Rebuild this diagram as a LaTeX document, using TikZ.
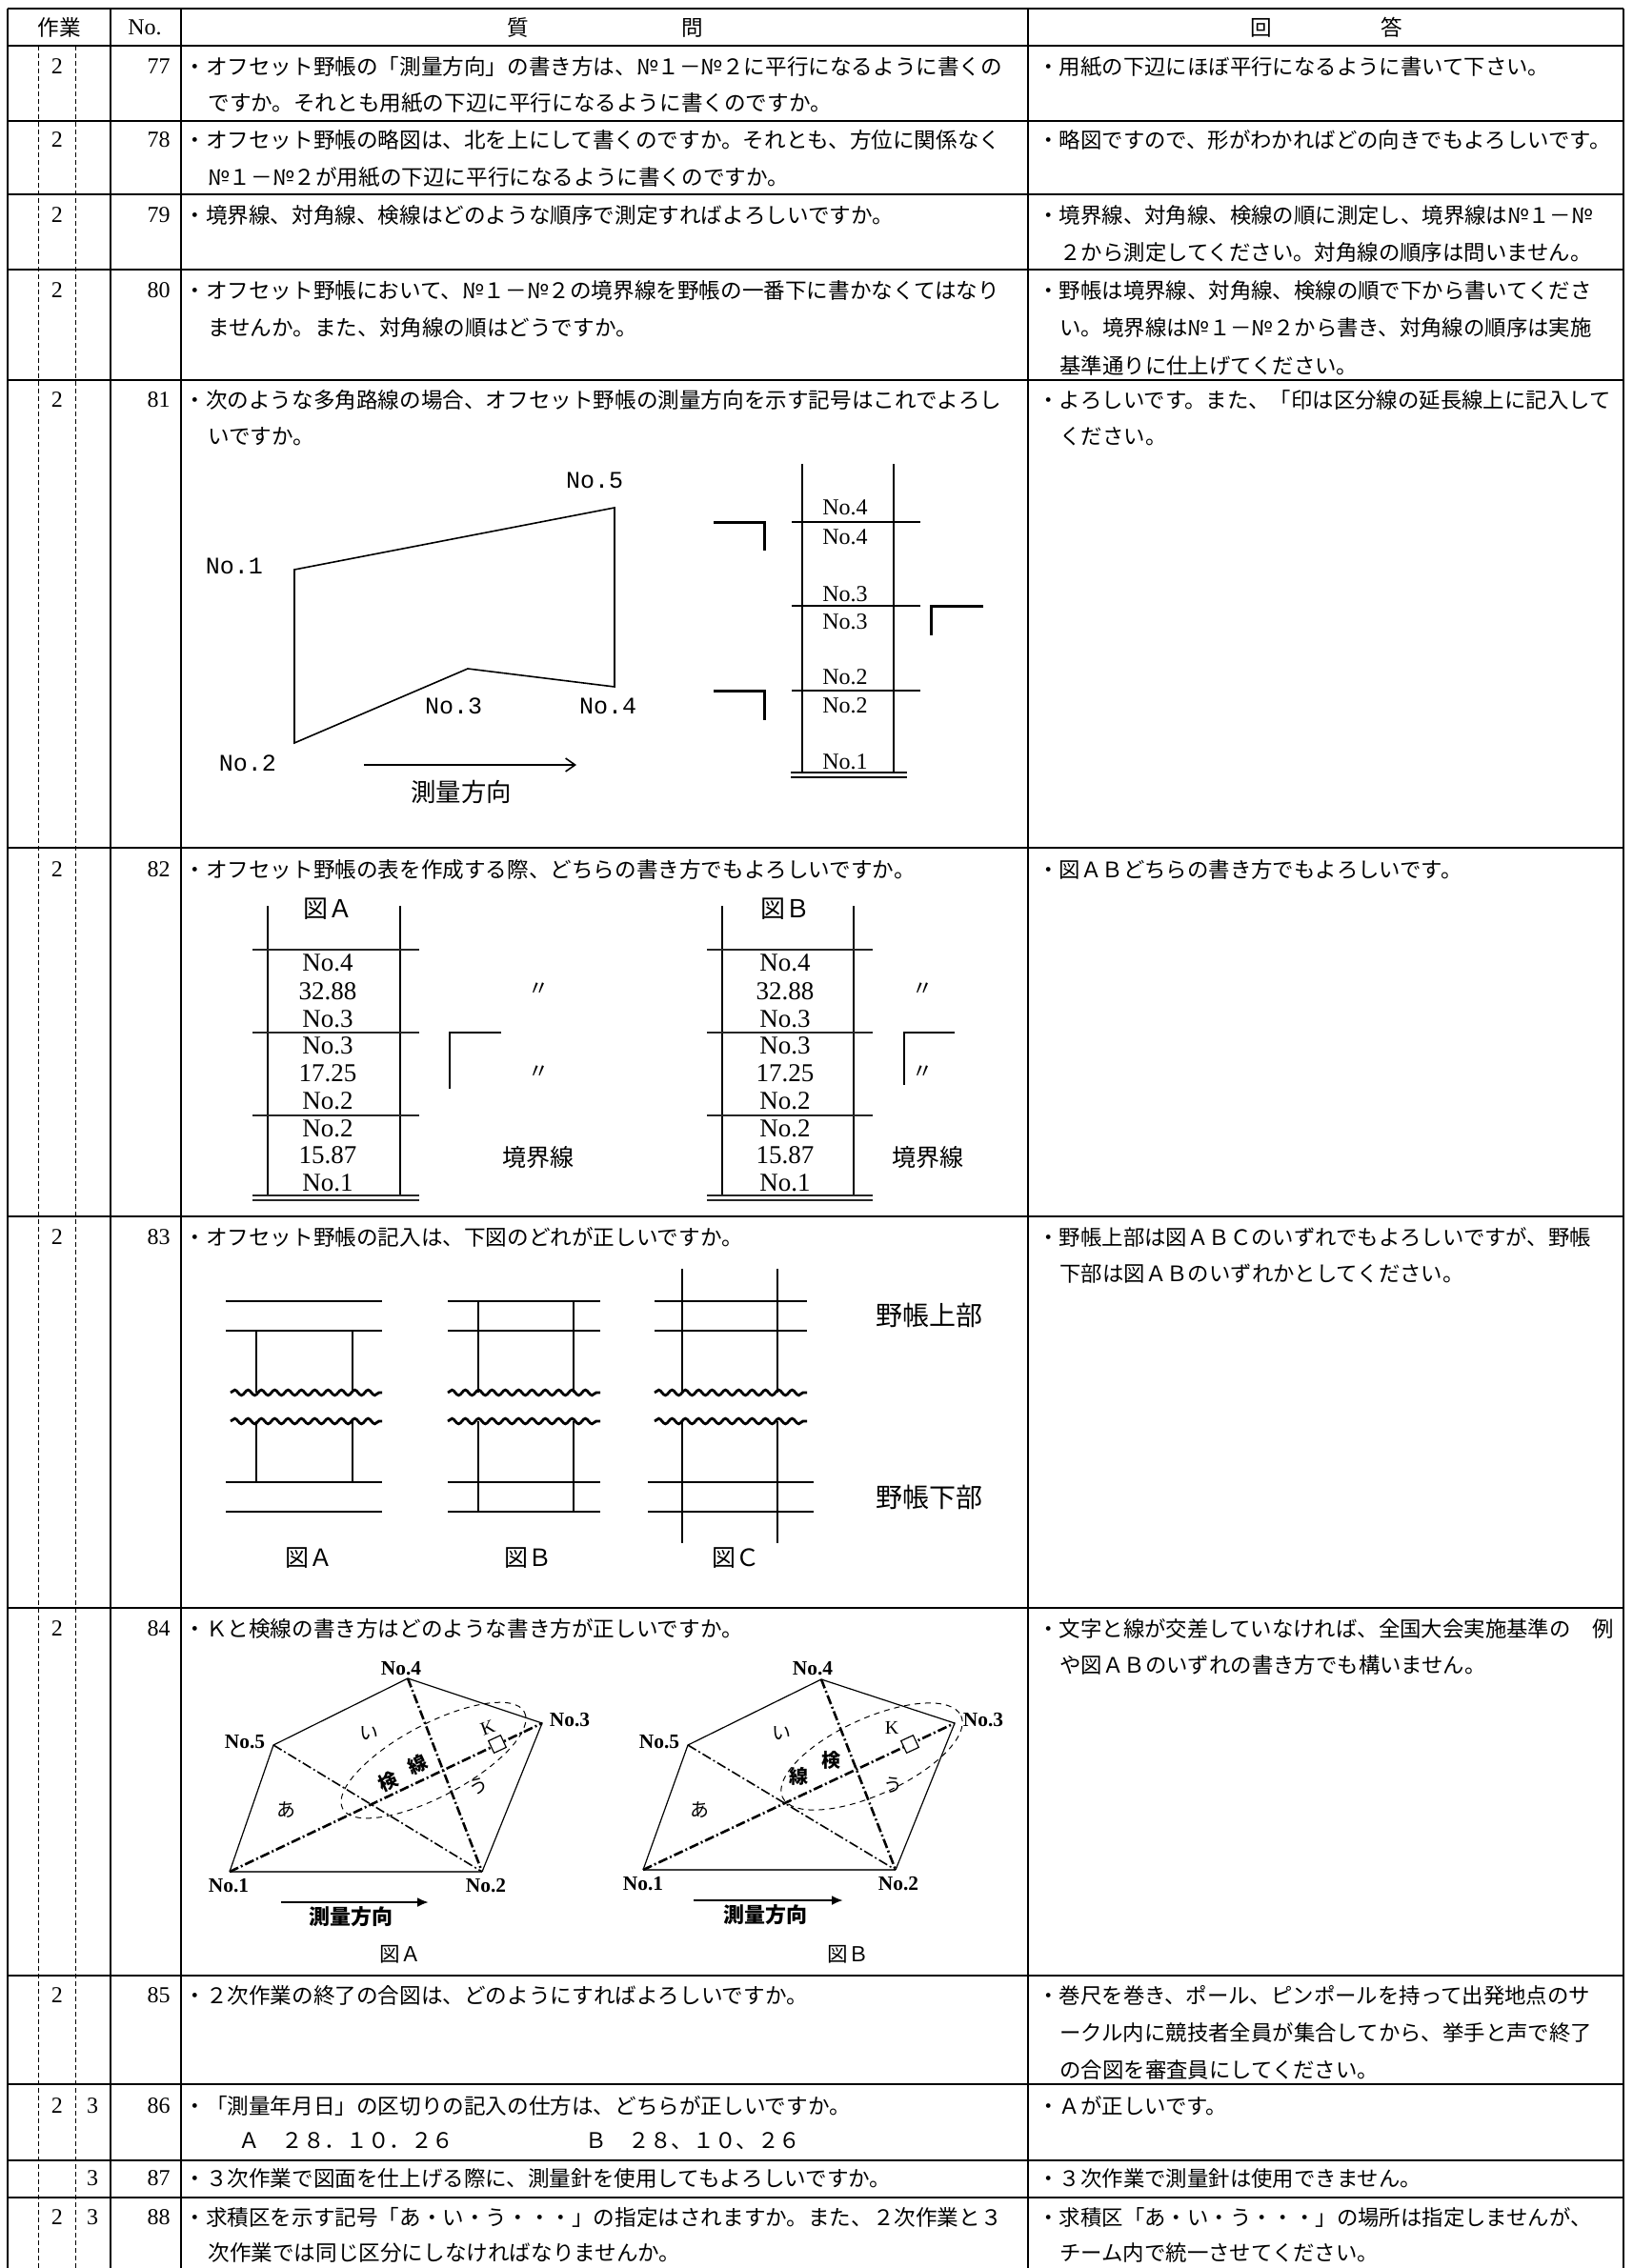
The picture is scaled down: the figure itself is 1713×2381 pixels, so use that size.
\documentclass[tikz,border=0pt]{standalone}
\usepackage{fontspec}
\setmainfont{Liberation Serif}
\newfontfamily\jp{Noto Sans CJK JP}
\newfontfamily\lmono{Liberation Mono}
\usetikzlibrary{arrows.meta,decorations.pathmorphing}
\newcommand\fsz[1]{\fontsize{#1}{#1}\selectfont}
\begin{document}
\begin{tikzpicture}[x=0.5pt,y=-0.5pt,
  hl/.style={line width=1.4pt},
  vl/.style={line width=1pt},
  dl/.style={line width=0.5pt,dash pattern=on 2.5pt off 1.5pt},
  tq/.style={anchor=west,inner sep=0pt,text height=9.9pt,text depth=1.4pt,font=\jp\fsz{11.3pt}},
  ta/.style={anchor=west,inner sep=0pt,text height=9.9pt,text depth=1.4pt,font=\jp\fsz{11.2pt}},
  hd/.style={inner sep=0pt,text height=9.9pt,text depth=1.4pt,font=\jp\fsz{11.3pt}},
  rn/.style={anchor=east,inner sep=0pt,font=\fsz{12pt}},
  wk/.style={inner sep=0pt,font=\fsz{12pt}},
  fg/.style={line width=0.8pt},
  mlab/.style={inner sep=0pt,font=\lmono\fsz{12.5pt}},
  slab/.style={inner sep=0pt,font=\fsz{12pt}},
  tlab/.style={inner sep=0pt,font=\fsz{13.5pt}},
  jlab/.style={inner sep=0pt,font=\jp\fsz{#1}},
  jblab/.style={inner sep=0pt,font=\jp\bfseries\fsz{#1}},
  cmark/.style={line width=1.5pt},
  thinc/.style={line width=0.6pt},
  trule/.style={line width=1.2pt,black!85},
  wavy/.style={line width=1.4pt,decorate,decoration={snake,segment length=7pt,amplitude=1.4pt}},
  pedge/.style={line width=0.6pt},
  pbase/.style={line width=1pt,black!75},
  ddthin/.style={line width=0.8pt,dash pattern=on 5pt off 1.5pt on 1pt off 1.5pt},
  ddthick/.style={line width=1.3pt,dash pattern=on 5pt off 1.5pt on 1pt off 1.5pt},
  ellip/.style={line width=0.5pt,dash pattern=on 3pt off 2.5pt},
  blab/.style={inner sep=0pt,font=\bfseries\fsz{10.7pt}},
  sqm/.style={draw,line width=0.6pt,fill=white,minimum size=7pt,inner sep=0pt,rotate=25},
  bigarrow/.style={line width=1.4pt,-{Latex[length=6pt,width=5pt]}},
]
\fill[white] (0,0) rectangle (1713,2381);
\useasboundingbox (0,0) rectangle (1713,2381);

% ---------- table grid ----------
\foreach \yy in {9,48,127,204,283,399,890,1277,1688,2074,2188,2268,2307}
  \draw[hl] (8,\yy) -- (1704,\yy);
\draw[line width=1.2pt] (8,9) -- (8,2381);
\foreach \xx in {116,190,1079}
  \draw[vl] (\xx,9) -- (\xx,2381);
\draw[line width=1.2pt] (1704,9) -- (1704,2381);
\draw[dl] (40,48) -- (40,2381);
\draw[dl] (79,48) -- (79,2381);

% ---------- header ----------
\node[hd] (h1) at (62,29) {作業};
\node[inner sep=0pt,font=\fsz{12pt}] (h2) at (152,29) {No.};
\node[hd] (h3) at (544,29) {質};
\node[hd] (h4) at (727,29) {問};
\node[hd] (h5) at (1324,29) {回};
\node[hd] (h6) at (1461,29) {答};

% ---------- work / number columns ----------
\foreach \yy/\nn in {70/77,147/78,226/79,305/80,420/81,913/82,1299/83,1710/84,2095/85,2211/86,2287/87,2328/88}
  \node[rn] (n\nn) at (179,\yy) {\nn};
\foreach \yy/\nn in {70/77,147/78,226/79,305/80,420/81,913/82,1299/83,1710/84,2095/85,2211/86,2328/88}
  \node[wk] (w2\nn) at (60,\yy) {2};
\foreach \yy/\nn in {2211/86,2287/87,2328/88}
  \node[wk] (w3\nn) at (97,\yy) {3};

% ---------- questions ----------
\node[tq] (q77a) at (193,70) {・オフセット野帳の「測量方向」の書き方は、№１－№２に平行になるように書くの};
\node[tq] (q77b) at (218,108) {ですか。それとも用紙の下辺に平行になるように書くのですか。};
\node[tq] (q78a) at (193,147) {・オフセット野帳の略図は、北を上にして書くのですか。それとも、方位に関係なく};
\node[tq] (q78b) at (218,186) {№１－№２が用紙の下辺に平行になるように書くのですか。};
\node[tq] (q79a) at (193,226) {・境界線、対角線、検線はどのような順序で測定すればよろしいですか。};
\node[tq] (q80a) at (193,305) {・オフセット野帳において、№１－№２の境界線を野帳の一番下に書かなくてはなり};
\node[tq] (q80b) at (218,344) {ませんか。また、対角線の順はどうですか。};
\node[tq] (q81a) at (193,420) {・次のような多角路線の場合、オフセット野帳の測量方向を示す記号はこれでよろし};
\node[tq] (q81b) at (218,458) {いですか。};
\node[tq] (q82a) at (193,913) {・オフセット野帳の表を作成する際、どちらの書き方でもよろしいですか。};
\node[tq] (q83a) at (193,1299) {・オフセット野帳の記入は、下図のどれが正しいですか。};
\node[tq] (q84a) at (193,1710) {・Ｋと検線の書き方はどのような書き方が正しいですか。};
\node[tq] (q85a) at (193,2095) {・２次作業の終了の合図は、どのようにすればよろしいですか。};
\node[tq] (q86a) at (193,2211) {・「測量年月日」の区切りの記入の仕方は、どちらが正しいですか。};
\node[tq] (q86b) at (250,2247) {Ａ　２８．１０．２６};
\node[tq] (q86c) at (614,2247) {Ｂ　２８、１０、２６};
\node[tq] (q87a) at (193,2287) {・３次作業で図面を仕上げる際に、測量針を使用してもよろしいですか。};
\node[tq] (q88a) at (193,2328) {・求積区を示す記号「あ・い・う・・・」の指定はされますか。また、２次作業と３};
\node[tq] (q88b) at (218,2365) {次作業では同じ区分にしなければなりませんか。};

% ---------- answers ----------
\node[ta] (a77a) at (1089,70) {・用紙の下辺にほぼ平行になるように書いて下さい。};
\node[ta] (a78a) at (1089,147) {・略図ですので、形がわかればどの向きでもよろしいです。};
\node[ta] (a79a) at (1089,226) {・境界線、対角線、検線の順に測定し、境界線は№１－№};
\node[ta] (a79b) at (1112,265) {２から測定してください。対角線の順序は問いません。};
\node[ta] (a80a) at (1089,305) {・野帳は境界線、対角線、検線の順で下から書いてくださ};
\node[ta] (a80b) at (1112,344) {い。境界線は№１－№２から書き、対角線の順序は実施};
\node[ta] (a80c) at (1112,384) {基準通りに仕上げてください。};
\node[ta] (a81a) at (1089,420) {・よろしいです。また、「印は区分線の延長線上に記入して};
\node[ta] (a81b) at (1112,458) {ください。};
\node[ta] (a82a) at (1089,913) {・図ＡＢどちらの書き方でもよろしいです。};
\node[ta] (a83a) at (1089,1299) {・野帳上部は図ＡＢＣのいずれでもよろしいですが、野帳};
\node[ta] (a83b) at (1112,1337) {下部は図ＡＢのいずれかとしてください。};
\node[ta] (a84a) at (1089,1710) {・文字と線が交差していなければ、全国大会実施基準の　例};
\node[ta] (a84b) at (1112,1748) {や図ＡＢのいずれの書き方でも構いません。};
\node[ta] (a85a) at (1089,2095) {・巻尺を巻き、ポール、ピンポールを持って出発地点のサ};
\node[ta] (a85b) at (1112,2134) {ークル内に競技者全員が集合してから、挙手と声で終了};
\node[ta] (a85c) at (1112,2173) {の合図を審査員にしてください。};
\node[ta] (a86a) at (1089,2211) {・Ａが正しいです。};
\node[ta] (a87a) at (1089,2287) {・３次作業で測量針は使用できません。};
\node[ta] (a88a) at (1089,2328) {・求積区「あ・い・う・・・」の場所は指定しませんが、};
\node[ta] (a88b) at (1112,2365) {チーム内で統一させてください。};

% ---------- row 81 figure ----------
\coordinate (p1) at (309,598);
\coordinate (p5) at (645,533);
\coordinate (p4) at (645,721);
\coordinate (p3) at (491,702);
\coordinate (p2) at (309,780);
\draw[fg,line join=miter] (p1) -- (p5) -- (p4) -- (p3) -- (p2) -- cycle;
\node[mlab] (l81n5) at (624,504) {No.5};
\node[mlab] (l81n1) at (246,594) {No.1};
\node[mlab] (l81n3) at (476,741) {No.3};
\node[mlab] (l81n4) at (638,741) {No.4};
\node[mlab] (l81n2) at (260,801) {No.2};
\coordinate (ar1s) at (382,803);
\coordinate (ar1e) at (605,803);
\draw[line width=0.8pt,-{Straight Barb[length=5pt,width=7pt]}] (ar1s) -- (ar1e);
\node[jlab=13.2pt] (l81dir) at (484,831) {測量方向};
% field book
\draw[thinc] (842,487) -- (842,811);
\draw[thinc] (938,487) -- (938,811);
\foreach \yy in {548,636,725}
  \draw[line width=0.9pt] (831,\yy) -- (966,\yy);
\draw[line width=0.9pt] (830,811) -- (952,811);
\draw[line width=0.9pt] (830,816) -- (952,816);
\foreach \yy/\tt/\id in {533/4/a,564/4/b,624/3/a,653/3/b,711/2/a,741/2/b,800/1/a}
  \node[slab] (fb\tt\id) at (887,\yy) {No.\tt};
\draw[cmark] (749,548) -- (802,548) -- (802,578);
\draw[cmark] (749,725) -- (802,725) -- (802,756);
\draw[cmark] (1032,636) -- (977,636) -- (977,667);

% ---------- row 82 figure ----------
\foreach \xa/\xb/\xc/\xd/\tx/\lab/\id in {265/281/420/440/344/Ａ/A,742/758/896/916/824/Ｂ/B}{
  \draw[thinc] (\xb,951) -- (\xb,1255);
  \draw[thinc] (\xc,951) -- (\xc,1255);
  \foreach \yy in {997,1084,1171,1255,1260}
    \draw[trule] (\xa,\yy) -- (\xd,\yy);
  \node[jlab=13pt] (t82h\id) at (\tx,954) {図\lab};
  \node[tlab] (t82a\id) at (\tx,1011) {No.4};
  \node[tlab] (t82b\id) at (\tx,1041) {32.88};
  \node[tlab] (t82c\id) at (\tx,1070) {No.3};
  \node[tlab] (t82d\id) at (\tx,1098) {No.3};
  \node[tlab] (t82e\id) at (\tx,1127) {17.25};
  \node[tlab] (t82f\id) at (\tx,1156) {No.2};
  \node[tlab] (t82g\id) at (\tx,1185) {No.2};
  \node[tlab] (t82i\id) at (\tx,1213) {15.87};
  \node[tlab] (t82j\id) at (\tx,1242) {No.1};
}
\draw[thinc] (526,1084) -- (472,1084) -- (472,1143);
\node[jlab=11pt] (dA1) at (565,1039) {〃};
\node[jlab=11pt] (dA2) at (565,1126) {〃};
\node[jlab=12.5pt] (kA) at (565,1215) {境界線};
\draw[thinc] (1002,1084) -- (949,1084) -- (949,1139);
\node[jlab=11pt] (dB1) at (968,1039) {〃};
\node[jlab=11pt] (dB2) at (968,1126) {〃};
\node[jlab=12.5pt] (kB) at (974,1215) {境界線};

% ---------- row 83 figure ----------
% fig A
\draw[line width=1pt] (237,1366) -- (401,1366);
\draw[line width=1pt] (237,1397) -- (401,1397);
\draw[thinc] (269,1397) -- (269,1462);
\draw[thinc] (370,1397) -- (370,1462);
\draw[wavy] (242,1462) -- (401,1462);
\draw[wavy] (242,1492) -- (401,1492);
\draw[thinc] (269,1492) -- (269,1556);
\draw[thinc] (370,1492) -- (370,1556);
\draw[line width=1pt] (237,1556) -- (401,1556);
\draw[line width=1pt] (237,1587) -- (401,1587);
% fig B
\draw[line width=1pt] (470,1366) -- (630,1366);
\draw[line width=1pt] (470,1397) -- (630,1397);
\draw[thinc] (502,1366) -- (502,1462);
\draw[thinc] (602,1366) -- (602,1462);
\draw[wavy] (470,1462) -- (630,1462);
\draw[wavy] (470,1492) -- (630,1492);
\draw[thinc] (502,1492) -- (502,1587);
\draw[thinc] (602,1492) -- (602,1587);
\draw[line width=1pt] (470,1556) -- (630,1556);
\draw[line width=1pt] (470,1587) -- (630,1587);
% fig C
\draw[line width=1pt] (687,1366) -- (847,1366);
\draw[line width=1pt] (687,1397) -- (847,1397);
\draw[thinc] (716,1332) -- (716,1462);
\draw[thinc] (816,1332) -- (816,1462);
\draw[wavy] (687,1462) -- (847,1462);
\draw[wavy] (687,1492) -- (847,1492);
\draw[thinc] (716,1492) -- (716,1620);
\draw[thinc] (816,1492) -- (816,1620);
\draw[line width=1pt] (680,1556) -- (854,1556);
\draw[line width=1pt] (680,1587) -- (854,1587);
\node[jlab=12.5pt] (f83A) at (324,1636) {図Ａ};
\node[jlab=12.5pt] (f83B) at (554,1636) {図Ｂ};
\node[jlab=12.5pt] (f83C) at (772,1636) {図Ｃ};
\node[jlab=14pt] (f83up) at (975,1381) {野帳上部};
\node[jlab=14pt] (f83lo) at (975,1572) {野帳下部};

% ---------- row 84 figure A ----------
\coordinate (A1) at (241,1965);
\coordinate (A2) at (506,1965);
\coordinate (A3) at (569,1809);
\coordinate (A4) at (428,1762);
\coordinate (A5) at (287,1832);
\draw[pbase] (A1) -- (A2);
\draw[pedge] (A2) -- (A3) -- (A4) -- (A5) -- (A1);
\draw[ddthin] (A5) -- (A2);
\draw[ddthick] (A4) -- (A2);
\draw[ddthick] (A1) -- (A3);
\draw[ellip,rotate around={28:(455,1848)}] (455,1848) ellipse [x radius=108,y radius=38];
\node[sqm] (sqA) at (522,1831) {};
\node[blab] (A4l) at (421,1752) {No.4};
\node[blab] (A3l) at (598,1806) {No.3};
\node[blab] (A5l) at (257,1829) {No.5};
\node[blab] (A1l) at (240,1980) {No.1};
\node[blab] (A2l) at (510,1980) {No.2};
\node[inner sep=0pt,font=\fsz{10pt},rotate=20] (AK) at (512,1814) {K};
\node[jlab=10pt] (Ai) at (387,1820) {い};
\node[jlab=10pt] (Aa) at (300,1900) {あ};
\node[jlab=10pt,rotate=20] (Au) at (502,1875) {う};
\node[jblab=10pt,rotate=25] (Aken) at (407,1870) {検};
\node[jblab=10pt,rotate=25] (Asen) at (438,1852) {線};
\coordinate (aAs) at (295,1997);
\coordinate (aAe) at (450,1997);
\draw[bigarrow] (aAs) -- (aAe);
\node[jblab=11pt] (Adir) at (368,2012) {測量方向};
\node[jlab=10.8pt] (Afig) at (420,2052) {図Ａ};

% ---------- row 84 figure B ----------
\coordinate (B1) at (675,1963);
\coordinate (B2) at (940,1963);
\coordinate (B3) at (1002,1809);
\coordinate (B4) at (862,1763);
\coordinate (B5) at (722,1832);
\draw[pbase] (B1) -- (B2);
\draw[pedge] (B2) -- (B3) -- (B4) -- (B5) -- (B1);
\draw[ddthin] (B5) -- (B2);
\draw[ddthick] (B4) -- (B2);
\draw[ddthick] (B1) -- (B3);
\draw[ellip,rotate around={24.5:(915,1844)}] (915,1844) ellipse [x radius=103,y radius=40];
\node[sqm] (sqB) at (955,1831) {};
\node[blab] (B4l) at (853,1752) {No.4};
\node[blab] (B3l) at (1032,1806) {No.3};
\node[blab] (B5l) at (692,1829) {No.5};
\node[blab] (B1l) at (675,1978) {No.1};
\node[blab] (B2l) at (943,1978) {No.2};
\node[inner sep=0pt,font=\fsz{10pt}] (BK) at (936,1814) {K};
\node[jlab=10pt] (Bi) at (820,1820) {い};
\node[jlab=10pt] (Ba) at (734,1900) {あ};
\node[jlab=10pt] (Bu) at (937,1874) {う};
\node[jblab=10pt] (Bken) at (872,1848) {検};
\node[jblab=10pt] (Bsen) at (838,1865) {線};
\coordinate (aBs) at (728,1995);
\coordinate (aBe) at (885,1995);
\draw[bigarrow] (aBs) -- (aBe);
\node[jblab=11pt] (Bdir) at (803,2010) {測量方向};
\node[jlab=10.8pt] (Bfig) at (890,2052) {図Ｂ};
\end{tikzpicture}
\end{document}
